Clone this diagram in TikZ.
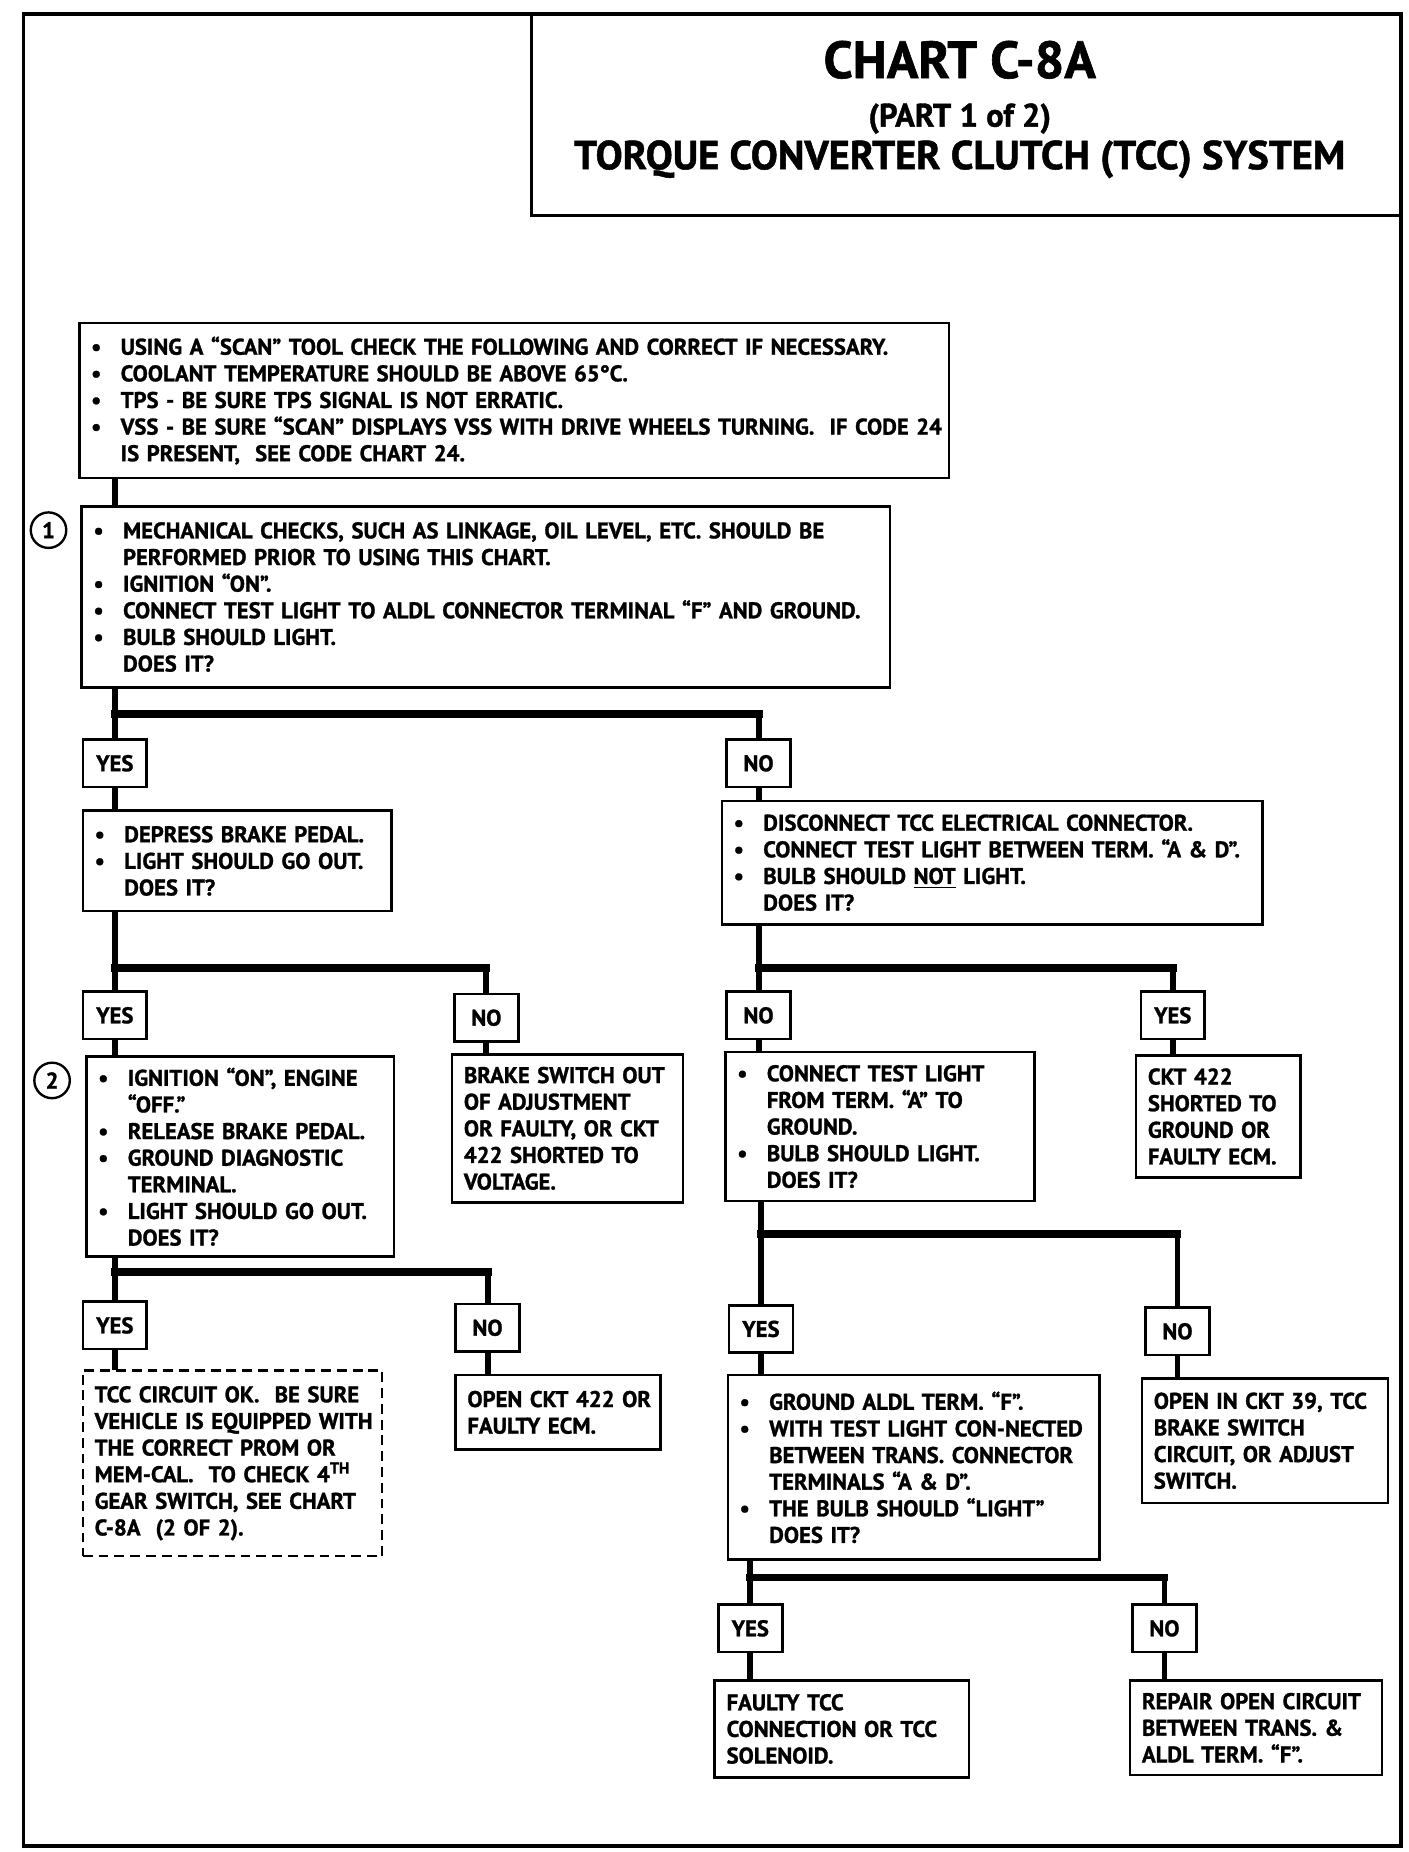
\documentclass[tikz,border=0pt]{standalone}
\usepackage{fontspec}
\setmainfont[BoldFeatures={FakeBold=1.2}]{PT Sans}
\newlength\bulw
\setlength\bulw{15pt}
\newcommand\bitem[1]{\hangindent=\bulw\hangafter=1\makebox[\bulw][l]{\textbullet}#1\par}
\newcommand\cont[1]{\hspace*{\bulw}#1\par}

\begin{document}
\begin{tikzpicture}[x=0.6pt,y=-0.6pt,
    box/.style={draw=black,line width=1.3pt,anchor=north west,inner xsep=6pt,inner ysep=2pt,outer sep=0pt,align=left,font=\bfseries\fontsize{11.5}{13.5}\selectfont,execute at begin node={\rightskip=-30pt plus 1fil}},
    ans/.style={draw=black,line width=1.3pt,minimum width=32.4pt,minimum height=24pt,inner sep=0pt,outer sep=0pt,font=\bfseries\fontsize{11.5}{13}\selectfont},
    num/.style={shape=circle,draw=black,line width=1.2pt,minimum size=18pt,inner sep=0pt,font=\bfseries\fontsize{11.5}{13}\selectfont},
    vline/.style={line width=3pt},
    hline/.style={line width=4pt,line cap=rect}]
    \useasboundingbox (0,0) rectangle (1190,1565);
    \draw[line width=1.8pt] (20,12) rectangle (1184,1560);
    \node[draw=black,line width=1.5pt,anchor=north west,outer sep=0pt,minimum width=441pt,minimum height=102pt] (title) at (449,12) {};
    \node[anchor=base,font=\bfseries\fontsize{26.5}{30}\selectfont] (t1) at (811,66) {CHART C-8A};
    \node[anchor=base,font=\bfseries\fontsize{16.5}{19}\selectfont] (t2) at (811,107) {(PART 1 of 2)};
    \node[anchor=base,font=\bfseries\fontsize{20.5}{24}\selectfont] (t3) at (811,143) {TORQUE CONVERTER CLUTCH (TCC) SYSTEM};

    \node[box,text width=429pt,minimum height=78.6pt] (A) at (67,273) {%
        \bitem{USING A “SCAN” TOOL CHECK THE FOLLOWING AND CORRECT IF NECESSARY.}
        \bitem{COOLANT TEMPERATURE SHOULD BE ABOVE 65°C.}
        \bitem{TPS - BE SURE TPS SIGNAL IS NOT ERRATIC.}
        \bitem{VSS - BE SURE “SCAN” DISPLAYS VSS WITH DRIVE WHEELS TURNING.~ IF CODE 24\newline IS PRESENT,~ SEE CODE CHART 24.}};
    \node[box,text width=397.8pt,minimum height=91.8pt] (B) at (69,428) {%
        \bitem{MECHANICAL CHECKS, SUCH AS LINKAGE, OIL LEVEL, ETC. SHOULD BE\newline PERFORMED PRIOR TO USING THIS CHART.}
        \bitem{IGNITION “ON”.}
        \bitem{CONNECT TEST LIGHT TO ALDL CONNECTOR TERMINAL “F” AND GROUND.}
        \bitem{BULB SHOULD LIGHT.}
        \cont{DOES IT?}};
    \node[num] (c1) at (41,448) {1};

    \node[ans] (Y1) at (97,645) {YES};
    \node[ans] (N1) at (641,645) {NO};
    \coordinate (f1) at (0,603);

    \node[box,text width=144.6pt,minimum height=51pt] (C) at (70,685) {%
        \bitem{DEPRESS BRAKE PEDAL.}
        \bitem{LIGHT SHOULD GO OUT.}
        \cont{DOES IT?}};
    \node[box,text width=262.2pt,minimum height=62.4pt] (F) at (610,677) {%
        \bitem{DISCONNECT TCC ELECTRICAL CONNECTOR.}
        \bitem{CONNECT TEST LIGHT BETWEEN TERM. “A \& D”.}
        \bitem{BULB SHOULD \underline{NOT} LIGHT.}
        \cont{DOES IT?}};

    \node[ans] (Y2) at (97,858) {YES};
    \node[ans] (N2) at (411,860) {NO};
    \node[ans] (N3) at (641,858) {NO};
    \node[ans] (Y3) at (991,858) {YES};
    \coordinate (f2) at (0,818);

    \node[box,text width=144pt,minimum height=101.4pt] (D) at (73,893) {%
        \bitem{IGNITION “ON”, ENGINE\newline “OFF.”}
        \bitem{RELEASE BRAKE PEDAL.}
        \bitem{GROUND DIAGNOSTIC\newline TERMINAL.}
        \bitem{LIGHT SHOULD GO OUT.}
        \cont{DOES IT?}};
    \node[num] (c2) at (44,913) {2};
    \node[box,text width=105pt,minimum height=75pt] (E) at (382,891) {BRAKE SWITCH OUT\\ OF ADJUSTMENT\\ OR FAULTY, OR CKT\\ 422 SHORTED TO\\ VOLTAGE.};
    \node[box,text width=144.6pt,minimum height=75.6pt] (G) at (613,889) {%
        \bitem{CONNECT TEST LIGHT\newline FROM TERM. “A” TO\newline GROUND.}
        \bitem{BULB SHOULD LIGHT.}
        \cont{DOES IT?}};
    \node[box,text width=71.4pt,minimum height=61.8pt] (H) at (960,892) {CKT 422\\ SHORTED TO\\ GROUND OR\\ FAULTY ECM.};

    \node[ans] (Y4) at (97,1120) {YES};
    \node[ans] (N4) at (412,1122) {NO};
    \node[ans] (Y5) at (643,1123) {YES};
    \node[ans] (N5) at (995,1125) {NO};
    \coordinate (f4) at (0,1075);
    \coordinate (f5) at (0,1043);

    \node[box,dash pattern=on 5pt off 3pt,line width=1.2pt,text width=139.8pt,minimum height=94.2pt] (I) at (70,1158) {TCC CIRCUIT OK.~ BE SURE\\ VEHICLE IS EQUIPPED WITH\\ THE CORRECT PROM OR\\ MEM-CAL.~ TO CHECK 4\textsuperscript{TH}\\ GEAR SWITCH, SEE CHART\\ C-8A~ (2 OF 2).};
    \node[box,text width=91.8pt,minimum height=37.8pt] (J) at (385,1162) {OPEN CKT 422 OR\\ FAULTY ECM.};
    \node[box,text width=176.4pt,minimum height=93.6pt] (K) at (615,1162) {%
        \bitem{GROUND ALDL TERM. “F”.}
        \bitem{WITH TEST LIGHT CON-NECTED\newline BETWEEN TRANS. CONNECTOR\newline TERMINALS “A \& D”.}
        \bitem{THE BULB SHOULD “LIGHT”\newline DOES IT?}};
    \node[box,text width=112.8pt,minimum height=63pt] (L) at (965,1165) {OPEN IN CKT 39, TCC\\ BRAKE SWITCH\\ CIRCUIT, OR ADJUST\\ SWITCH.};

    \node[ans] (Y6) at (634,1376) {YES};
    \node[ans] (N6) at (984,1376) {NO};
    \coordinate (f6) at (0,1333);

    \node[box,text width=117pt,minimum height=49.2pt] (M) at (604,1420) {FAULTY TCC\\ CONNECTION OR TCC\\ SOLENOID.};
    \node[box,text width=115.8pt,minimum height=48pt] (N) at (955,1420) {REPAIR OPEN CIRCUIT\\ BETWEEN TRANS. \&\\ ALDL TERM. “F”.};

    \draw[vline] (Y1 |- A.south) -- (Y1 |- B.north);
    \draw[vline] (Y1 |- B.south) -- (Y1.north);
    \draw[hline] (Y1 |- f1) -- (N1 |- f1);
    \draw[vline] (N1 |- f1) -- (N1.north);
    \draw[vline] (Y1.south) -- (Y1 |- C.north);
    \draw[vline] (N1.south) -- (N1 |- F.north);

    \draw[vline] (Y2 |- C.south) -- (Y2.north);
    \draw[hline] (Y2 |- f2) -- (N2 |- f2);
    \draw[vline] (N2 |- f2) -- (N2.north);
    \draw[vline] (N3 |- F.south) -- (N3.north);
    \draw[hline] (N3 |- f2) -- (Y3 |- f2);
    \draw[vline] (Y3 |- f2) -- (Y3.north);
    \draw[vline] (Y2.south) -- (Y2 |- D.north);
    \draw[vline] (N2.south) -- (N2 |- E.north);
    \draw[vline] (N3.south) -- (N3 |- G.north);
    \draw[vline] (Y3.south) -- (Y3 |- H.north);

    \draw[vline] (Y4 |- D.south) -- (Y4.north);
    \draw[hline] (Y4 |- f4) -- (N4 |- f4);
    \draw[vline] (N4 |- f4) -- (N4.north);
    \draw[vline] (Y5 |- G.south) -- (Y5.north);
    \draw[hline] (Y5 |- f5) -- (N5 |- f5);
    \draw[vline] (N5 |- f5) -- (N5.north);
    \draw[vline] (Y4.south) -- (Y4 |- I.north);
    \draw[vline] (N4.south) -- (N4 |- J.north);
    \draw[vline] (Y5.south) -- (Y5 |- K.north);
    \draw[vline] (N5.south) -- (N5 |- L.north);

    \draw[vline] (Y6 |- K.south) -- (Y6.north);
    \draw[hline] (Y6 |- f6) -- (N6 |- f6);
    \draw[vline] (N6 |- f6) -- (N6.north);
    \draw[vline] (Y6.south) -- (Y6 |- M.north);
    \draw[vline] (N6.south) -- (N6 |- N.north);
\end{tikzpicture}
\end{document}
